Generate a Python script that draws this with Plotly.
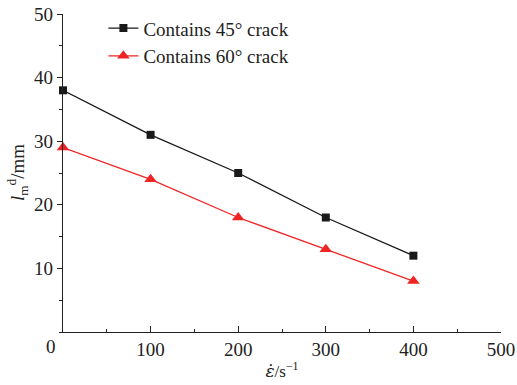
import plotly.graph_objects as go

strain_rate = [0, 100, 200, 300, 400]
length_45 = [38, 31, 25, 18, 12]
length_60 = [29, 24, 18, 13, 8]
x_ticks = [100, 200, 300, 400, 500]
y_ticks = [10, 20, 30, 40, 50]

font = "Liberation Serif, Times New Roman, serif"

fig = go.Figure()
fig.add_trace(go.Scatter(
    x=strain_rate, y=length_45, mode="lines+markers",
    name="Contains 45° crack",
    line=dict(color="#1a1a1a", width=1.3),
    marker=dict(symbol="square", size=8, color="#1a1a1a"),
    cliponaxis=False,
))
fig.add_trace(go.Scatter(
    x=strain_rate, y=length_60, mode="lines+markers",
    name="Contains 60° crack",
    line=dict(color="#f02424", width=1.3),
    marker=dict(symbol="triangle-up", size=11, color="#f02424"),
    cliponaxis=False,
))

fig.update_layout(
    width=517, height=385,
    margin=dict(l=63, r=16, t=14, b=53, autoexpand=False),
    paper_bgcolor="white", plot_bgcolor="white",
    font=dict(family=font, size=19, color="#222"),
    showlegend=True,
    legend=dict(
        x=0.2, y=0.976, xref="container", yref="container",
        xanchor="left", yanchor="top",
        bgcolor="rgba(0,0,0,0)", font=dict(size=19),
        tracegroupgap=0, itemwidth=30,
    ),
    xaxis=dict(
        range=[0, 500], tickvals=x_ticks, ticks="inside", ticklen=6,
        tickcolor="#222", showline=True, linecolor="#222", linewidth=1.3,
        showgrid=False, zeroline=False, automargin=False,
        minor=dict(ticks="inside", ticklen=3, dtick=50, tick0=0, tickcolor="#222"),
        title=dict(
            text='<span style="font-family:DejaVu Serif;font-style:italic">ε̇</span>/s<sup>−1</sup>',
            standoff=6, font=dict(size=17),
        ),
    ),
    yaxis=dict(
        range=[0, 50], tickvals=y_ticks, ticks="outside", ticklen=5,
        tickcolor="#222", showline=True, linecolor="#222", linewidth=1.3,
        showgrid=False, zeroline=False, automargin=False,
        minor=dict(ticks="outside", ticklen=3, dtick=5, tick0=0, tickcolor="#222"),
    ),
)

# y-axis title, rotated, left of the tick labels
fig.add_annotation(
    x=-0.105, y=0.5, xref="paper", yref="paper",
    text="<i>l</i><sub>m</sub><sup>d</sup>/mm", textangle=-90,
    showarrow=False, xanchor="center", yanchor="middle",
    font=dict(size=19, family=font, color="#222"),
)

# shared origin label at the corner
fig.add_annotation(
    x=-0.027, y=0, xref="paper", yref="paper",
    text="0", showarrow=False, xanchor="center", yanchor="top",
    yshift=-2, font=dict(size=19, family=font, color="#222"),
)

fig.write_html("out.html")
